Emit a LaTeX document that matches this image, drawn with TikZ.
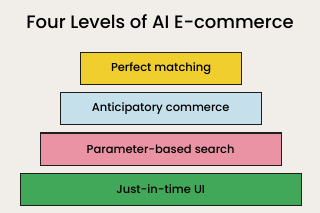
\documentclass[tikz,border=0pt]{standalone}
\usepackage{fontspec}
\setmainfont{Poppins}[UprightFont=* Medium]
\definecolor{bg}{HTML}{F1EEEA}
\definecolor{cyellow}{HTML}{F0CE2E}
\definecolor{cblue}{HTML}{C5E0EA}
\definecolor{cpink}{HTML}{E993A5}
\definecolor{cgreen}{HTML}{41A859}
\definecolor{edge}{HTML}{1E1E1E}
\begin{document}
\begin{tikzpicture}[x=1pt,y=-1pt,
  level/.style={draw=edge,line width=1.1pt,anchor=north west,inner sep=0pt,font=\fontsize{11.5}{13}\selectfont,text=black}]
\fill[bg] (0,0) rectangle (320,213);
\useasboundingbox (0,0) rectangle (320,213);
\node[font=\fontsize{18}{20}\selectfont,text=black] (title) at (160,22) {Four Levels of AI E-commerce};
\node[level,fill=cyellow,minimum width=160.5pt,minimum height=32.5pt] (l1) at (80.3,51.8) {Perfect matching};
\node[level,fill=cblue,minimum width=201pt,minimum height=32pt] (l2) at (59.6,92.3) {Anticipatory commerce};
\node[level,fill=cpink,minimum width=241pt,minimum height=32.5pt] (l3) at (39.6,132.5) {Parameter-based search};
\node[level,fill=cgreen,minimum width=281pt,minimum height=32.5pt] (l4) at (19.6,172.8) {Just-in-time UI};
\end{tikzpicture}
\end{document}
